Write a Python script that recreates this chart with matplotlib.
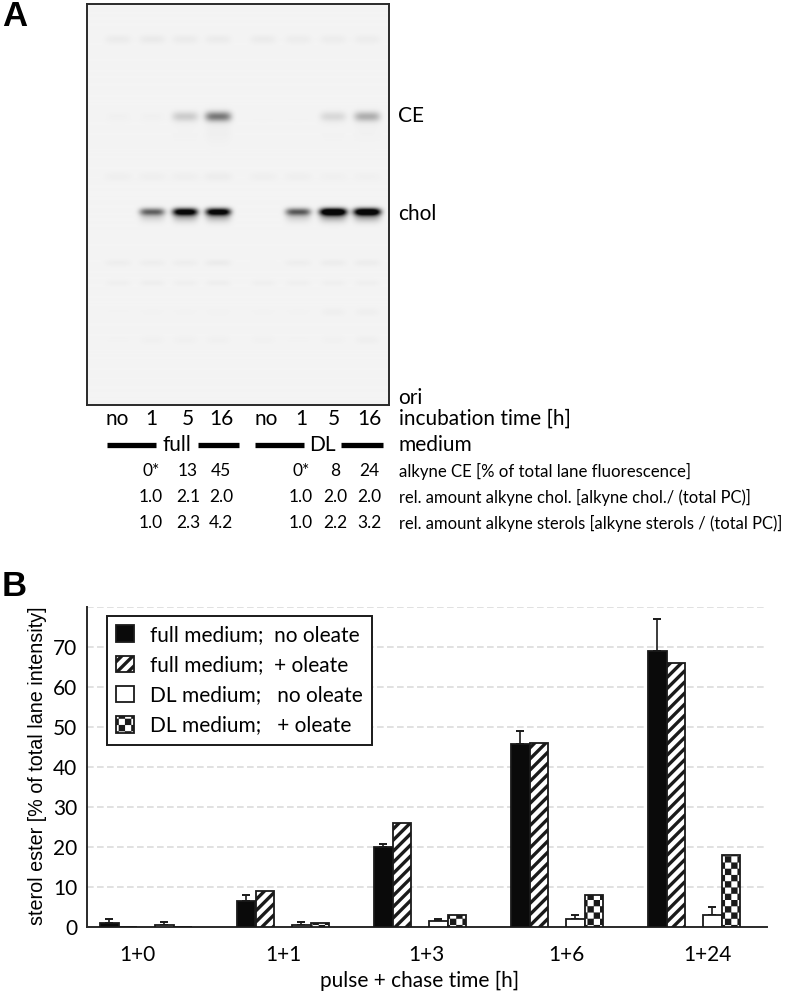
import numpy as np
import matplotlib
matplotlib.use("Agg")
import matplotlib.pyplot as plt
import matplotlib.hatch as mhatch
from matplotlib.path import Path

# ---- panel B data ----
groups = ["1+0", "1+1", "1+3", "1+6", "1+24"]
full_no = [1.1, 6.5, 20.0, 45.7, 69.0]
full_no_err = [0.8, 1.4, 0.8, 3.3, 8.0]
full_ole = [0.0, 9.0, 26.0, 46.0, 66.0]
dl_no = [0.6, 0.6, 1.6, 1.9, 3.0]
dl_no_err = [0.6, 0.6, 0.3, 1.1, 1.9]
dl_ole = [0.0, 1.0, 3.0, 8.0, 18.0]
series_names = ["full medium;  no oleate", "full medium;  + oleate",
                "DL medium;   no oleate", "DL medium;   + oleate"]
yticks = [0, 10, 20, 30, 40, 50, 60, 70]

# ---- panel A data ----
lanes = ["no", "1", "5", "16", "no", "1", "5", "16"]
row_ce = ["0*", "13", "45", "0*", "8", "24"]
row_chol = ["1.0", "2.1", "2.0", "1.0", "2.0", "2.0"]
row_ster = ["1.0", "2.3", "4.2", "1.0", "2.2", "3.2"]
band_ce = [0.012, 0.012, 0.16, 0.50, 0.005, 0.005, 0.11, 0.28]
band_chol = [0.0, 0.52, 1.0, 1.0, 0.0, 0.55, 1.2, 1.15]
band_top = [0.035, 0.04, 0.035, 0.035, 0.035, 0.03, 0.03, 0.03]
band_mid = [0.02, 0.02, 0.02, 0.03, 0.02, 0.02, 0.015, 0.015]
band_low1 = [0.025, 0.025, 0.025, 0.035, 0.005, 0.025, 0.03, 0.03]
band_low2 = [0.02, 0.025, 0.02, 0.025, 0.02, 0.02, 0.02, 0.02]
band_low3 = [0.005, 0.008, 0.008, 0.01, 0.008, 0.008, 0.02, 0.02]
band_low4 = [0.005, 0.015, 0.015, 0.015, 0.012, 0.005, 0.012, 0.02]


class StripeHatch(mhatch.HatchPatternBase):
    def __init__(self, hatch, density):
        n = 18 if "/" in hatch else 0
        self.num_lines = n
        self.num_vertices = (n + 1) * 2 if n else 0

    def set_vertices_and_codes(self, vertices, codes):
        steps = np.linspace(-0.5, 0.5, self.num_lines + 1)
        vertices[0::2, 0] = steps
        vertices[0::2, 1] = -steps
        vertices[1::2, 0] = 1.0 + steps
        vertices[1::2, 1] = 1.0 - steps
        codes[0::2] = Path.MOVETO
        codes[1::2] = Path.LINETO


class CheckerHatch(mhatch.HatchPatternBase):
    filled = True
    cells = 16
    inset = 0.016

    def __init__(self, hatch, density):
        self.squares = [(i, j) for i in range(self.cells) for j in range(self.cells)
                        if (i + j) % 2 == 0] if "O" in hatch else []
        self.num_vertices = len(self.squares) * 5

    def set_vertices_and_codes(self, vertices, codes):
        c = 1.0 / self.cells
        d = self.inset
        for k, (i, j) in enumerate(self.squares):
            x0, y0 = i * c + d, j * c + d
            x1, y1 = (i + 1) * c - d, (j + 1) * c - d
            vertices[k * 5:k * 5 + 5] = [(x0, y0), (x1, y0), (x1, y1), (x0, y1), (x0, y0)]
            codes[k * 5:k * 5 + 5] = [Path.MOVETO, Path.LINETO, Path.LINETO, Path.LINETO, Path.CLOSEPOLY]


mhatch._hatch_types = [StripeHatch, CheckerHatch]

W, H = 796, 994
plt.rcParams["font.family"] = ["Lato", "Liberation Sans", "DejaVu Sans"]
plt.rcParams["hatch.linewidth"] = 2.4
INK = "#1a1a1a"

fig = plt.figure(figsize=(W / 100, H / 100), dpi=100, facecolor="white")


def axes_px(x0, y0, x1, y1, **kw):
    return fig.add_axes([x0 / W, 1 - y1 / H, (x1 - x0) / W, (y1 - y0) / H], **kw)


# ---- gel image ----
gel = axes_px(87, 4, 389, 405)
gx, gy = np.meshgrid(np.arange(87, 389, 0.5), np.arange(4, 405, 0.5))
lane_x = [118, 152, 185, 218, 263, 298, 333, 367]
dark = np.zeros_like(gx)
rows = [(40, 4.5, 13, band_top), (117, 5.0, 13, band_ce), (177, 4.5, 14, band_mid),
        (212, 3.6, 12.5, band_chol), (263, 3.5, 13, band_low1), (283, 3.0, 12, band_low2),
        (312, 4.0, 12, band_low3), (340, 4.0, 12, band_low4)]
for yc, sy, wx, vals in rows:
    for xc, v in zip(lane_x, vals):
        w = wx + 1 if vals is band_chol and v > 1 else wx
        prof = np.exp(-((gx - xc) / w) ** 4)
        dark += v * prof * np.exp(-((gy - yc) / sy) ** 2)
        if vals is band_chol:
            dark += 0.28 * v * prof * np.exp(-((gy - yc - 4) / 6.0) ** 2)
        if vals is band_ce:
            dark += 0.04 * v * prof * np.exp(-((gy - yc - 14) / 14.0) ** 2)
gray = np.clip(0.955 * (1 - dark), 0.03, 1)
gel.imshow(gray, cmap="gray", vmin=0, vmax=1, aspect="auto", interpolation="bilinear")
gel.set_xticks([])
gel.set_yticks([])
for s in gel.spines.values():
    s.set_linewidth(1.4)
    s.set_color("#2a2a2a")

# ---- bar chart ----
ax = axes_px(87, 607, 767, 927)
GROUP_PX = 137.0
BAR = 18.5 / GROUP_PX
ax.set_xlim(-13 / GROUP_PX, (767 - 100) / GROUP_PX)
ax.set_ylim(0, 80)
idx = np.arange(len(groups))
off = np.array([0, 18.5, 55, 73.5]) / GROUP_PX + BAR / 2
errkw = dict(ecolor=INK, elinewidth=1.2, capsize=3, capthick=1.4, zorder=2)
bkw = dict(width=BAR, edgecolor=INK, linewidth=1.3, zorder=3)
b1 = ax.bar(idx + off[0], full_no, color="#0a0a0a", **bkw)
ax.errorbar(idx + off[0], full_no, yerr=[np.zeros(5), full_no_err], fmt="none", **errkw)
b2 = ax.bar(idx + off[1], full_ole, color="white", hatch="/", **bkw)
b3 = ax.bar(idx + off[2], dl_no, color="white", **bkw)
ax.errorbar(idx + off[2], dl_no, yerr=[np.zeros(5), dl_no_err], fmt="none", **errkw)
b4 = ax.bar(idx + off[3], dl_ole, color="white", hatch="O", **bkw)

ax.set_yticks(yticks)
ax.set_yticks([80], minor=True)
ax.yaxis.grid(True, which="both", color="#dcdcdc", linestyle=(0, (4, 2)), linewidth=1.2, zorder=0)
ax.set_axisbelow(True)
ax.tick_params(axis="y", which="both", length=0, labelsize=15, pad=7)
label_px = [137, 283, 426, 566, 707]
ax.set_xticks([(p - 100) / GROUP_PX for p in label_px])
ax.set_xticklabels(groups)
ax.tick_params(axis="x", length=0, labelsize=15, pad=13)
ax.set_xlabel("pulse + chase time [h]", fontsize=15, labelpad=4, x=(420 - 87) / 680)
for s in ("top", "right"):
    ax.spines[s].set_visible(False)
for s in ("left", "bottom"):
    ax.spines[s].set_linewidth(1.4)
    ax.spines[s].set_color("#2a2a2a")

fig.text(38 / W, 1 - 766 / H, "sterol ester [% of total lane intensity]", rotation=90,
         ha="center", va="center", fontsize=14.2, family=["Liberation Sans"])

leg = ax.legend([b1, b2, b3, b4], series_names, loc="upper left",
                bbox_to_anchor=((107 - 87) / 680, (927 - 616) / 320),
                fontsize=15, fancybox=False, framealpha=1, edgecolor="#1a1a1a",
                handlelength=0.85, handleheight=0.85, handletextpad=0.8,
                labelspacing=0.49, borderpad=0.43, borderaxespad=0)
leg.get_frame().set_linewidth(1.4)
leg.set_zorder(10)

# ---- annotations in pixel space ----
ann = fig.add_axes([0, 0, 1, 1], facecolor="none")
ann.set_xlim(0, W)
ann.set_ylim(H, 0)
ann.axis("off")


def put(x, y, s, size=15, ha="center", **kw):
    ann.text(x, y, s, fontsize=size, ha=ha, va="center", **kw)


put(2, 17, "A", 25, ha="left", family=["Liberation Sans"], weight="bold")
put(2, 586, "B", 25, ha="left", family=["Liberation Sans"], weight="bold")
for y, s in [(116, "CE"), (214, "chol"), (398, "ori")]:
    put(398, y, s, 15, ha="left")

lane_label_x = [117, 151, 188, 221, 266, 301, 334, 369]
for x, s in zip(lane_label_x, lanes):
    put(x, 419, s, 15)
put(399, 419, "incubation time [h]", 15, ha="left")

for x0, x1 in [(107, 156), (198, 239), (255, 304), (341, 383)]:
    ann.plot([x0, x1], [445, 445], color="black", lw=3.8, solid_capstyle="butt")
put(177, 445, "full", 15)
put(322, 445, "DL", 15)
put(399, 445, "medium", 15, ha="left")

col_x = [151, 188, 221, 301, 335, 369]
for y, vals in [(471, row_ce), (497, row_chol), (523, row_ster)]:
    for x, s in zip(col_x, vals):
        put(x, y, s, 12.5)
put(399, 471, "alkyne CE [% of total lane fluorescence]", 12.1, ha="left")
put(399, 497, "rel. amount alkyne chol. [alkyne chol./ (total PC)]", 11.9, ha="left")
put(399, 523, "rel. amount alkyne sterols [alkyne sterols / (total PC)]", 11.9, ha="left")

fig.savefig("out.png", dpi=100, facecolor="white")
